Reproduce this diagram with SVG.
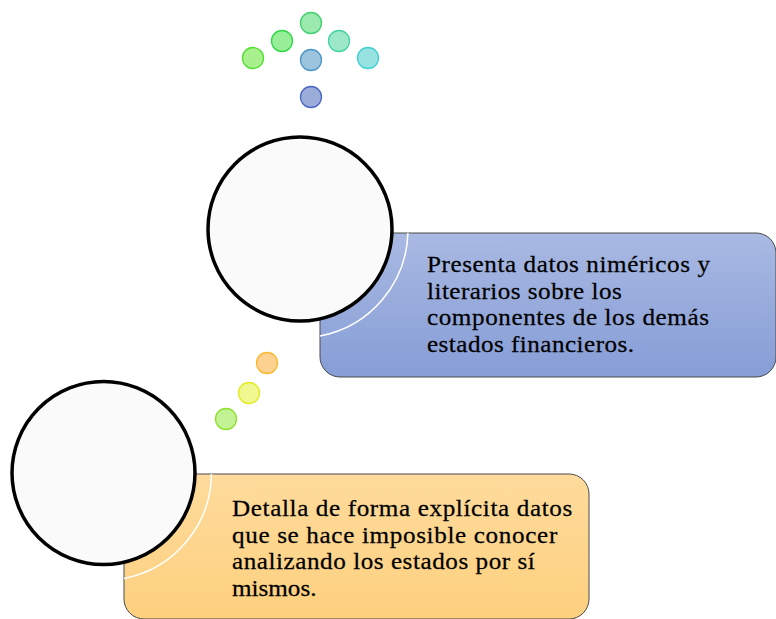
<svg xmlns="http://www.w3.org/2000/svg" width="776" height="619" viewBox="0 0 776 619">
<defs>
<linearGradient id="gBlue" x1="0" y1="0" x2="0" y2="1">
<stop offset="0" stop-color="#a9b9e2"/>
<stop offset="1" stop-color="#869dd6"/>
</linearGradient>
<linearGradient id="gOrange" x1="0" y1="0" x2="0" y2="1">
<stop offset="0" stop-color="#fedb9c"/>
<stop offset="1" stop-color="#fdd07e"/>
</linearGradient>
<style>
.box{stroke:#4a4a4a;stroke-width:1}
.arc{fill:none;stroke:#ffffff;stroke-width:1.5}
.big{fill:#fafafa;stroke:#000000;stroke-width:3.5}
.dot{stroke-width:1.3}
.txt{font-family:"Liberation Serif","Times New Roman",serif;font-size:23.5px;fill:#000000;stroke:#000000;stroke-width:0.25}
</style>
</defs>
<g id="dots-top">
<circle class="dot" cx="253" cy="58" r="10.5" fill="#a8f08e" stroke="#4fe02c"/>
<circle class="dot" cx="282" cy="41" r="10.5" fill="#98ee98" stroke="#2fd844"/>
<circle class="dot" cx="311" cy="23" r="10.5" fill="#9be9ac" stroke="#3fd071"/>
<circle class="dot" cx="339" cy="41" r="10.5" fill="#9de8c8" stroke="#44d3a2"/>
<circle class="dot" cx="368" cy="58" r="10.5" fill="#98e2e2" stroke="#40d0d2"/>
<circle class="dot" cx="311" cy="60" r="10.5" fill="#9cc4dc" stroke="#4a96c8"/>
<circle class="dot" cx="311" cy="97" r="10.5" fill="#9cacda" stroke="#4868c2"/>
</g>
<g id="node-1">
<rect class="box" x="320" y="233" width="456" height="144" rx="20" fill="url(#gBlue)"/>
<path class="arc" d="M 407.9 233 A 108 108 0 0 1 320 335.9"/>
<circle class="big" cx="300" cy="229" r="92"/>
<g transform="translate(427 0) scale(1.07 1)">
<text class="txt" x="0" y="272.5" textLength="264.5" lengthAdjust="spacing">Presenta datos niméricos  y</text>
<text class="txt" x="0" y="299" textLength="182" lengthAdjust="spacing">literarios  sobre los</text>
<text class="txt" x="0" y="325.5" textLength="263.5" lengthAdjust="spacing">componentes de los demás</text>
<text class="txt" x="0" y="352" textLength="193.5" lengthAdjust="spacing">estados financieros.</text>
</g>
</g>
<g id="dots-bottom">
<circle class="dot" cx="267" cy="363" r="10.5" fill="#fdd190" stroke="#f8b830"/>
<circle class="dot" cx="249" cy="393" r="10.5" fill="#f0f890" stroke="#e2ea22"/>
<circle class="dot" cx="226" cy="419" r="10.5" fill="#c2f294" stroke="#8ee02e"/>
</g>
<g id="node-2">
<rect class="box" x="124" y="474" width="465" height="145" rx="20" fill="url(#gOrange)"/>
<path class="arc" d="M 211.5 474 A 108 108 0 0 1 124 578.5"/>
<circle class="big" cx="103.5" cy="473" r="91.5"/>
<g transform="translate(232 0) scale(1.07 1)">
<text class="txt" x="0" y="516" textLength="318" lengthAdjust="spacing">Detalla de forma explícita datos</text>
<text class="txt" x="0" y="542.7" textLength="304" lengthAdjust="spacing">que se hace imposible conocer</text>
<text class="txt" x="0" y="569.3" textLength="283" lengthAdjust="spacing">analizando los estados por sí</text>
<text class="txt" x="0" y="596" textLength="79" lengthAdjust="spacing">mismos.</text>
</g>
</g>
</svg>
